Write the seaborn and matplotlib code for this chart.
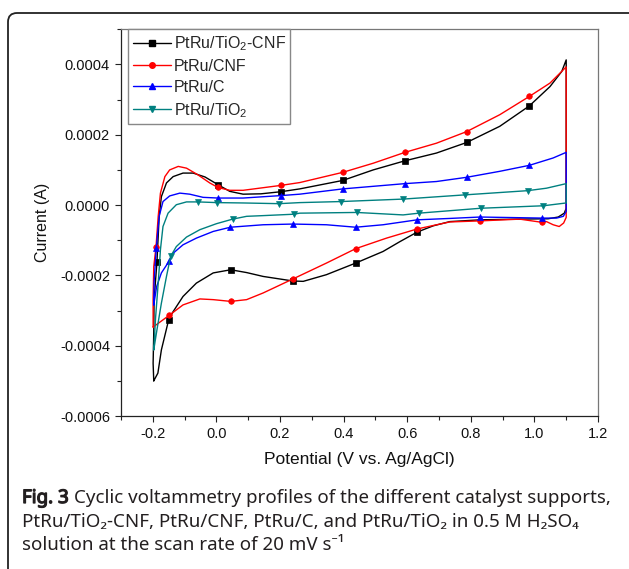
import numpy as np
import pandas as pd
import matplotlib
matplotlib.use("Agg")
import matplotlib.pyplot as plt
import seaborn as sns
from matplotlib.lines import Line2D
from matplotlib.patches import FancyBboxPatch
from matplotlib.transforms import IdentityTransform
from matplotlib.ticker import MultipleLocator, FuncFormatter
import matplotlib.patheffects as pe

# ---------------- data (potential in V, current in 1e-4 A) ----------------
CURRENT_UNIT = 1e-4

tio2cnf_v = [-0.197, -0.199, -0.197, -0.196, -0.187, -0.180, -0.173, -0.157, -0.136, -0.105,
             -0.073, -0.036, 0.005, 0.042, 0.084, 0.140, 0.203, 0.262, 0.397, 0.493,
             0.593, 0.692, 0.787, 0.891, 0.984, 1.049, 1.086, 1.100, 1.100, 1.094,
             1.075, 1.043, 0.944, 0.829, 0.734, 0.682, 0.631, 0.577, 0.524, 0.438,
             0.346, 0.273, 0.241, 0.147, 0.095, 0.045, -0.010, -0.063, -0.105, -0.136,
             -0.150, -0.173, -0.184, -0.197]
tio2cnf_i = [-5.00, -4.50, -3.63, -2.69, -1.63, -0.32, 0.24, 0.63, 0.81, 0.91,
             0.91, 0.80, 0.58, 0.39, 0.31, 0.32, 0.38, 0.46, 0.70, 1.00,
             1.26, 1.48, 1.78, 2.24, 2.82, 3.37, 3.80, 4.13, -0.09, -0.23,
             -0.34, -0.39, -0.40, -0.42, -0.47, -0.59, -0.77, -1.04, -1.32, -1.65,
             -1.98, -2.17, -2.16, -2.03, -1.92, -1.84, -1.93, -2.22, -2.60, -3.03,
             -3.26, -4.12, -4.78, -5.00]
tio2cnf_marks = [4, 12, 16, 18, 20, 22, 24, 36, 39, 42, 45, 50]

cnf_v = [-0.199, -0.199, -0.197, -0.190, -0.183, -0.176, -0.162, -0.147, -0.120, -0.094,
         -0.058, -0.021, 0.005, 0.042, 0.084, 0.203, 0.262, 0.397, 0.493, 0.593,
         0.692, 0.787, 0.891, 0.984, 1.049, 1.100, 1.100, 1.092, 1.078, 1.059,
         1.038, 1.023, 0.954, 0.829, 0.734, 0.631, 0.535, 0.438, 0.346, 0.241,
         0.147, 0.095, 0.045, -0.010, -0.052, -0.105, -0.149, -0.199]
cnf_i = [-3.47, -2.69, -1.75, -1.20, -0.32, 0.34, 0.81, 1.00, 1.10, 1.05,
         0.86, 0.63, 0.50, 0.42, 0.42, 0.56, 0.64, 0.93, 1.19, 1.50,
         1.76, 2.09, 2.57, 3.09, 3.47, 3.93, -0.35, -0.51, -0.61, -0.56,
         -0.47, -0.49, -0.40, -0.45, -0.48, -0.68, -0.94, -1.24, -1.65, -2.10,
         -2.50, -2.69, -2.74, -2.69, -2.67, -2.84, -3.14, -3.47]
cnf_marks = [3, 12, 15, 17, 19, 21, 23, 31, 33, 35, 37, 39, 42, 46]

c_v = [-0.197, -0.196, -0.189, -0.180, -0.168, -0.147, -0.115, -0.084, -0.042, 0.005,
       0.084, 0.203, 0.262, 0.397, 0.593, 0.692, 0.787, 0.891, 0.984, 1.059,
       1.100, 1.100, 1.091, 1.070, 1.023, 0.829, 0.734, 0.631, 0.524, 0.438,
       0.346, 0.241, 0.147, 0.044, -0.010, -0.063, -0.105, -0.136, -0.149, -0.173,
       -0.188, -0.197]
c_i = [-2.84, -2.20, -1.22, -0.32, 0.10, 0.26, 0.34, 0.31, 0.22, 0.20,
       0.20, 0.27, 0.31, 0.46, 0.61, 0.67, 0.79, 0.96, 1.13, 1.34,
       1.50, -0.18, -0.32, -0.37, -0.37, -0.34, -0.38, -0.42, -0.56, -0.63,
       -0.56, -0.54, -0.56, -0.63, -0.75, -0.94, -1.13, -1.37, -1.60, -1.93,
       -2.32, -2.84]
c_marks = [2, 9, 11, 13, 14, 16, 18, 24, 25, 27, 29, 31, 33, 38]

tio2_v = [-0.197, -0.191, -0.183, -0.178, -0.176, -0.168, -0.152, -0.126, -0.094, -0.058,
          0.002, 0.084, 0.197, 0.262, 0.391, 0.587, 0.781, 0.979, 1.038, 1.100,
          1.100, 1.028, 0.832, 0.637, 0.587, 0.441, 0.262, 0.244, 0.147, 0.095,
          0.051, 0.000, -0.052, -0.094, -0.126, -0.144, -0.157, -0.173, -0.187, -0.197]
tio2_i = [-4.12, -3.17, -2.22, -1.56, -1.27, -0.61, -0.23, 0.01, 0.09, 0.09,
          0.07, 0.06, 0.04, 0.07, 0.10, 0.17, 0.29, 0.41, 0.48, 0.61,
          0.06, -0.02, -0.09, -0.23, -0.28, -0.21, -0.23, -0.26, -0.30, -0.32,
          -0.40, -0.53, -0.70, -0.91, -1.18, -1.46, -2.03, -2.79, -3.55, -4.12]
tio2_marks = [9, 10, 12, 14, 15, 16, 17, 21, 22, 23, 25, 27, 30, 35]

labels = ["PtRu/TiO$_2$-CNF", "PtRu/CNF", "PtRu/C", "PtRu/TiO$_2$"]
colors = ["#000000", "#FF0000", "#0000FF", "#008080"]
markers = ["s", "o", "^", "v"]

x_ticks = [-0.2, 0.0, 0.2, 0.4, 0.6, 0.8, 1.0, 1.2]
y_ticks = [-0.0006, -0.0004, -0.0002, 0.0, 0.0002, 0.0004]

# ---------------- style ----------------
sns.set_style("ticks")
plt.rcParams["font.family"] = ["Liberation Sans", "DejaVu Sans"]
plt.rcParams["mathtext.fontset"] = "custom"
plt.rcParams["mathtext.rm"] = "Liberation Sans"
plt.rcParams["mathtext.it"] = "Liberation Sans:italic"
plt.rcParams["mathtext.bf"] = "Liberation Sans:bold"

W, H = 629, 569
fig = plt.figure(figsize=(W / 100, H / 100), dpi=100)
fig.patch.set_facecolor("white")

ax_l, ax_r, ax_t, ax_b = 121, 598, 29.3, 416
ax = fig.add_axes([ax_l / W, 1 - ax_b / H, (ax_r - ax_l) / W, (ax_b - ax_t) / H])

series = [(tio2cnf_v, tio2cnf_i, tio2cnf_marks),
          (cnf_v, cnf_i, cnf_marks),
          (c_v, c_i, c_marks),
          (tio2_v, tio2_i, tio2_marks)]

for (v, i, mk), lab, col, m in zip(series, labels, colors, markers):
    df = pd.DataFrame({"Potential": v, "Current": np.array(i) * CURRENT_UNIT})
    sns.lineplot(data=df, x="Potential", y="Current", sort=False, estimator=None,
                 ax=ax, color=col, linewidth=1.0, marker=m, markevery=mk,
                 markersize=4, markeredgecolor=col, markerfacecolor=col,
                 markeredgewidth=0.5, legend=False)

ax.set_xlim(-0.3, 1.2)
ax.set_ylim(-0.0006, 0.0005)
ax.set_xticks(x_ticks)
ax.set_yticks(y_ticks)
ax.xaxis.set_minor_locator(MultipleLocator(0.1))
ax.yaxis.set_minor_locator(MultipleLocator(0.0001))
ax.xaxis.set_major_formatter(FuncFormatter(lambda v, p: f"{v:.1f}" if abs(v) > 1e-9 else "0.0"))
ax.yaxis.set_major_formatter(FuncFormatter(lambda v, p: f"{v:.4f}" if abs(v) > 1e-12 else "0.0000"))
ax.tick_params(axis="both", which="major", direction="out", length=4.5, width=0.8,
               labelsize=10.5, color="#222222", labelcolor="#111111", pad=3.5)
ax.tick_params(axis="both", which="minor", direction="out", length=2.8, width=0.8,
               color="#222222")
ax.tick_params(top=False, right=False, which="both")
for s in ["left", "bottom"]:
    ax.spines[s].set_color("#222222")
    ax.spines[s].set_linewidth(0.9)
for s in ["top", "right"]:
    ax.spines[s].set_visible(True)
    ax.spines[s].set_color("#777777")
    ax.spines[s].set_linewidth(0.9)

ax.set_xlabel("Potential (V vs. Ag/AgCl)", fontsize=12.5, color="#111111", labelpad=8)
ax.set_ylabel("Current (A)", fontsize=11.5, color="#111111", labelpad=7)

handles = [Line2D([], [], color=c, marker=m, markersize=4, linewidth=1.0,
                  markeredgecolor=c, markerfacecolor=c) for c, m in zip(colors, markers)]
leg = ax.legend(handles, labels, loc="upper left", bbox_to_anchor=(7 / (ax_r - ax_l), 1.0),
                fontsize=11.5, frameon=True, fancybox=False, framealpha=1,
                edgecolor="#888888", handlelength=2.4, handletextpad=0.15,
                borderpad=0.3, labelspacing=0.38, borderaxespad=0.0, numpoints=1)
leg.get_frame().set_linewidth(1.0)

# ---------------- outer frame ----------------
frame = FancyBboxPatch((8, -40), 720, H - 13 + 40, boxstyle="round,pad=0,rounding_size=9",
                       transform=IdentityTransform(), fill=False, edgecolor="#222222",
                       linewidth=1.3)
fig.add_artist(frame)

# ---------------- caption ----------------
cap_font = ["Noto Sans", "DejaVu Sans"]
cap_size = 13.5
cap_col = "#231f20"
renderer = fig.canvas.get_renderer()
x0 = 22 / W
t_bold = fig.text(x0, 1 - 503 / H, "Fig. 3", fontsize=cap_size, fontweight="bold",
                  family=cap_font, color=cap_col, va="baseline",
                  path_effects=[pe.withStroke(linewidth=0.9, foreground=cap_col)])
bb = t_bold.get_window_extent(renderer=renderer)
fig.text((bb.x1 + 5) / W, 1 - 503 / H,
         "Cyclic voltammetry profiles of the different catalyst supports,",
         fontsize=cap_size, family=cap_font, color=cap_col, va="baseline")
fig.text(x0, 1 - 527 / H,
         "PtRu/TiO\u2082-CNF, PtRu/CNF, PtRu/C, and PtRu/TiO\u2082 in 0.5 M H\u2082SO\u2084",
         fontsize=cap_size, family=cap_font, color=cap_col, va="baseline")
fig.text(x0, 1 - 550 / H,
         "solution at the scan rate of 20 mV s\u207b\u00b9",
         fontsize=cap_size, family=cap_font, color=cap_col, va="baseline")

fig.savefig("out.png", dpi=100)
